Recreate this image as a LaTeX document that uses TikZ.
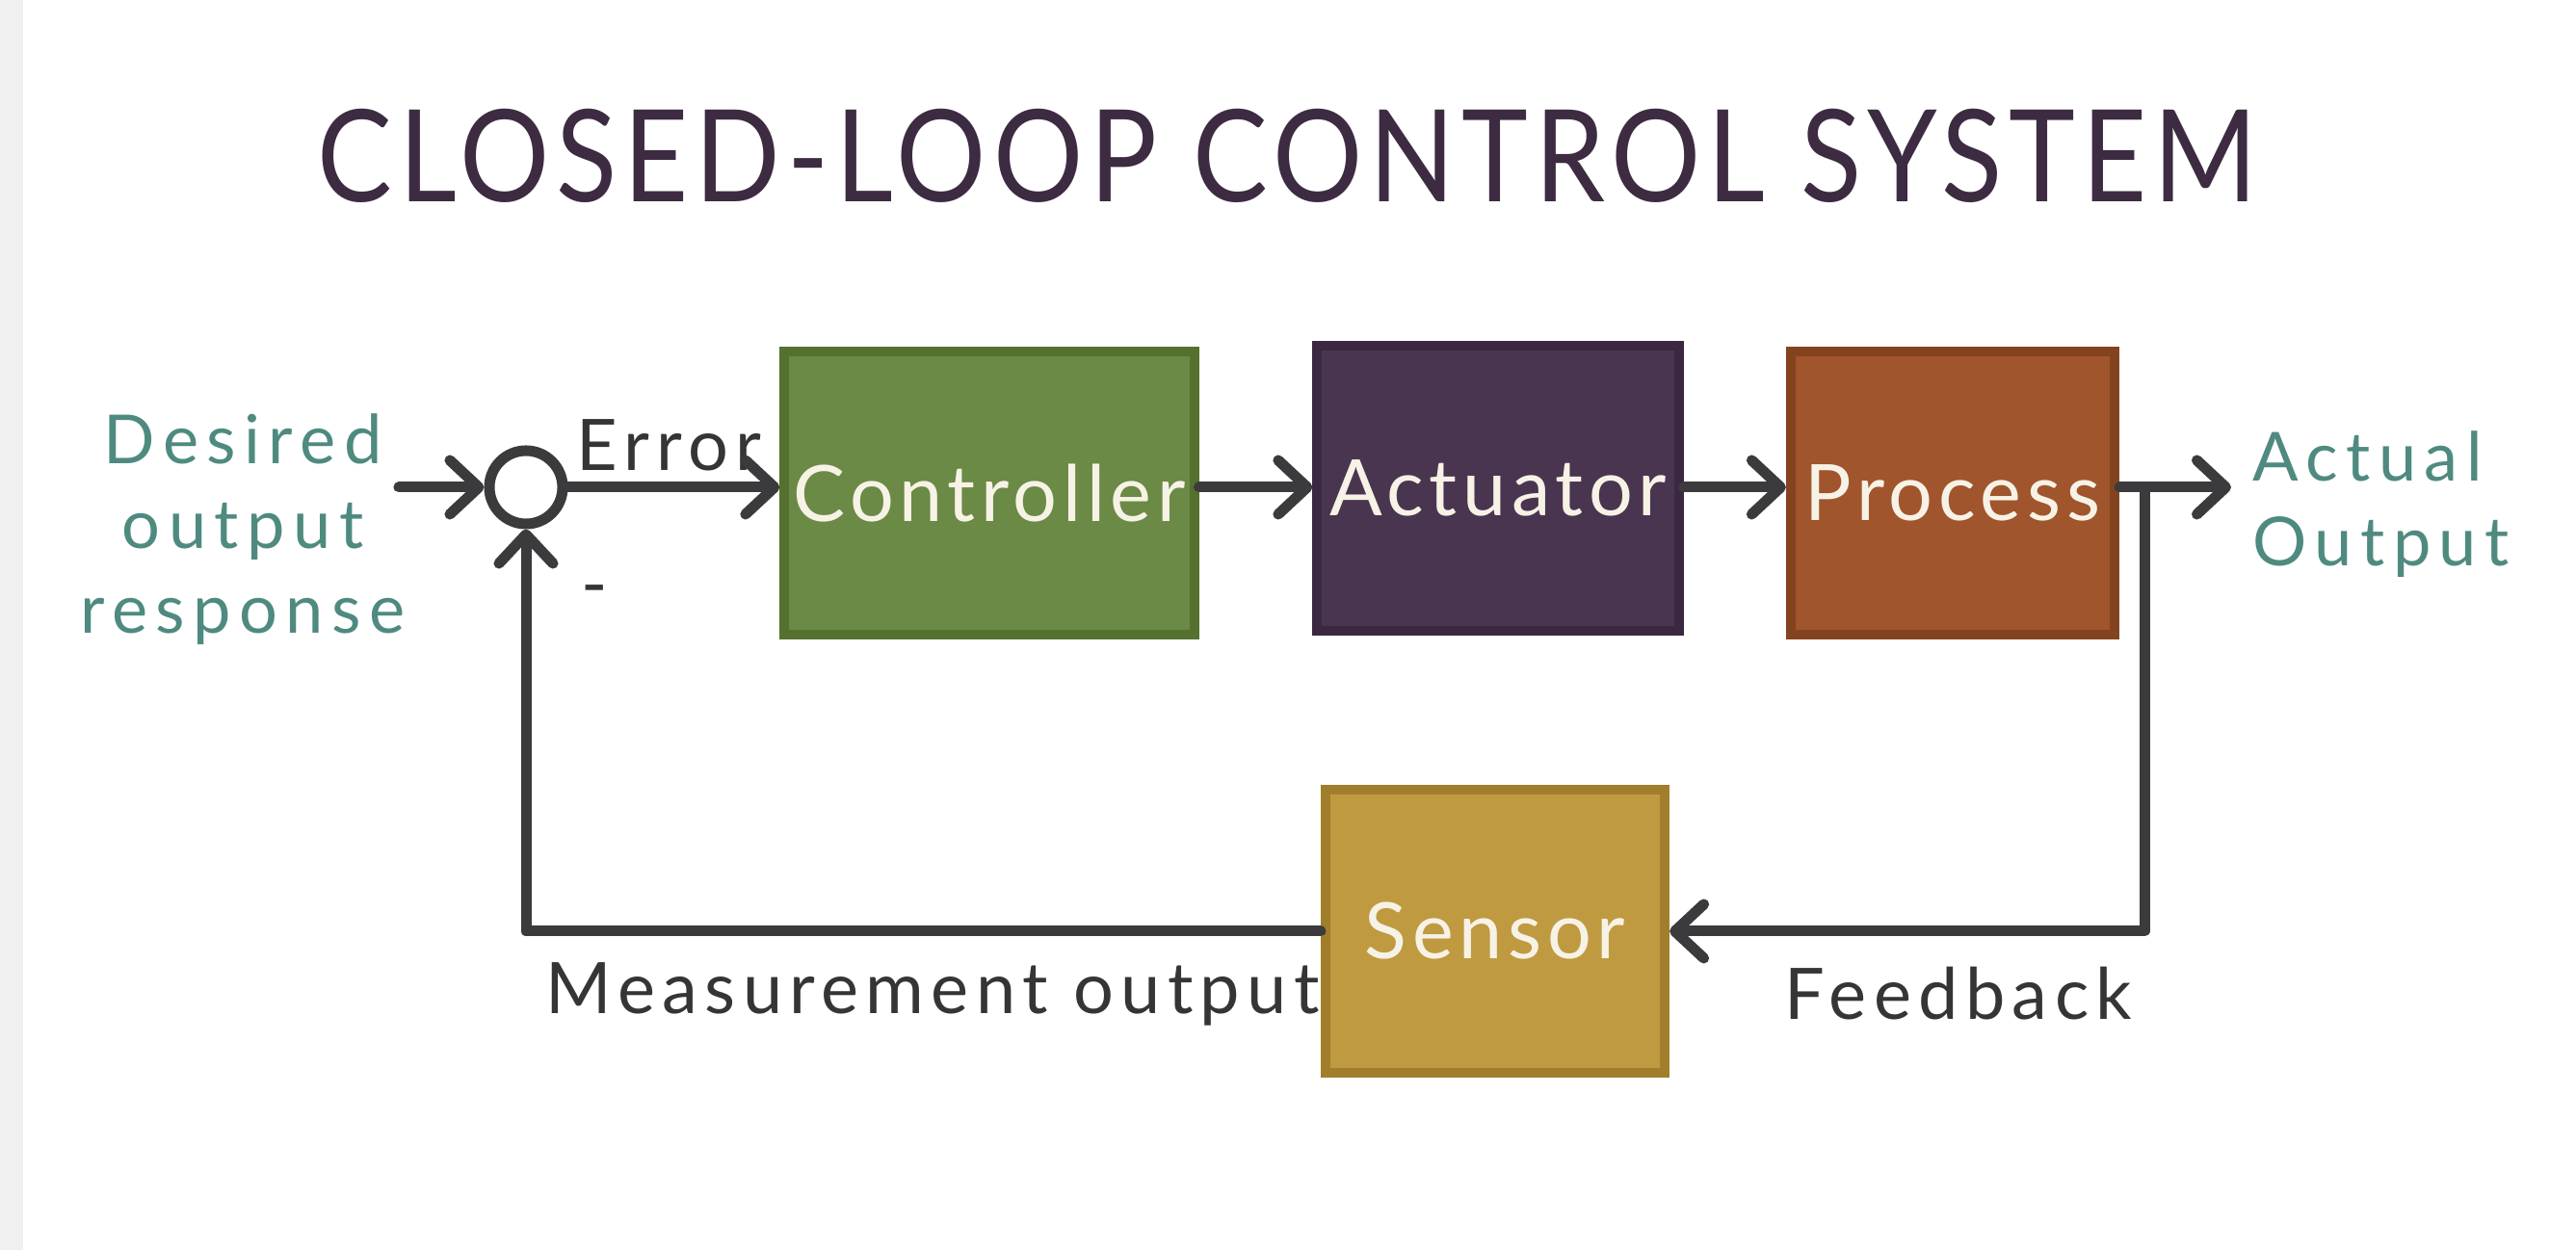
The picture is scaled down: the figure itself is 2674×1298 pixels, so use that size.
\documentclass[tikz,border=0pt]{standalone}
\usepackage{fontspec}
\setmainfont{Lato}
\usetikzlibrary{arrows.meta}
\definecolor{lncol}{HTML}{3B3B3D}
\definecolor{tealtxt}{HTML}{4F8A80}
\definecolor{darktxt}{HTML}{353535}
\definecolor{titlecol}{HTML}{3D2B42}
\definecolor{boxtxt}{HTML}{F7F2E6}
\definecolor{ctrlfill}{HTML}{6B8A45}
\definecolor{ctrldraw}{HTML}{55712F}
\definecolor{actfill}{HTML}{4A3550}
\definecolor{actdraw}{HTML}{3A2840}
\definecolor{procfill}{HTML}{A0552C}
\definecolor{procdraw}{HTML}{84431F}
\definecolor{sensfill}{HTML}{BF9A40}
\definecolor{sensdraw}{HTML}{A07E2C}
\tikzset{
  blockbox/.style={line width=0.1cm, inner sep=0pt, text=boxtxt,
    font=\fontsize{23}{27}\selectfont\addfontfeatures{LetterSpace=7}},
  conn/.style={draw=lncol, line width=0.11cm, line cap=round, line join=round,
    -{Straight Barb[length=0.3cm, width=0.56cm, round]}},
  teallabel/.style={text=tealtxt, align=center,
    font=\fontsize{20}{25}\selectfont\addfontfeatures{LetterSpace=12}},
  darklabel/.style={text=darktxt,
    font=\fontsize{21}{24}\selectfont\addfontfeatures{LetterSpace=10}}
}
\begin{document}
\begin{tikzpicture}[x=0.01cm, y=-0.01cm]
\fill[white] (0,0) rectangle (2674,1298);
\fill[black!6] (0,0) rectangle (24,1298);
\useasboundingbox (0,0) rectangle (2674,1298);

% title
\node[text=titlecol, font=\fontsize{36}{40}\selectfont\addfontfeatures{LetterSpace=6}] (title) at (1336,162) {\scalebox{0.92}[1.05]{CLOSED-LOOP CONTROL SYSTEM}};

% blocks
\node[blockbox, fill=ctrlfill, draw=ctrldraw, minimum width=4.25cm, minimum height=2.93cm] (ctrl) at (1027,512) {Controller};
\node[blockbox, fill=actfill, draw=actdraw, minimum width=3.75cm, minimum height=2.95cm] (act) at (1555,507) {Actuator};
\node[blockbox, fill=procfill, draw=procdraw, minimum width=3.36cm, minimum height=2.93cm] (proc) at (2027,512) {Process};
\node[blockbox, fill=sensfill, draw=sensdraw, minimum width=3.52cm, minimum height=2.94cm] (sens) at (1552,967) {Sensor};

% summing junction
\node[circle, draw=lncol, line width=0.11cm, minimum size=0.76cm, inner sep=0pt] (sum) at (546,506) {};

% coordinates
\coordinate (inp) at (414,506);
\coordinate (outp) at (2316,506);
\coordinate (branch) at (2226,506);

% labels
\node[teallabel] (desired) at (252,550) {Desired\\output\\response};
\node[teallabel, align=left, anchor=west] (actual) at (2326,524) {Actual\\Output};
\node[darklabel, anchor=west] (err) at (586,462) {Error};
\node[darklabel] (minus) at (617,620) {-};
\node[darklabel] (meas) at (968,1032) {Measurement output};
\node[darklabel] (fb) at (2033,1032) {Feedback};

% connectors
\draw[conn] (inp) -- (sum.west);
\draw[conn] (sum.east) -- (sum.east -| ctrl.west);
\draw[conn] (ctrl.east |- sum.center) -- (act.west |- sum.center);
\draw[conn] (act.east |- sum.center) -- (proc.west |- sum.center);
\draw[conn] (proc.east |- sum.center) -- (outp);
\draw[conn] (branch) |- (sens.east);
\draw[conn] (sens.west) -| (sum.south);
\end{tikzpicture}
\end{document}
